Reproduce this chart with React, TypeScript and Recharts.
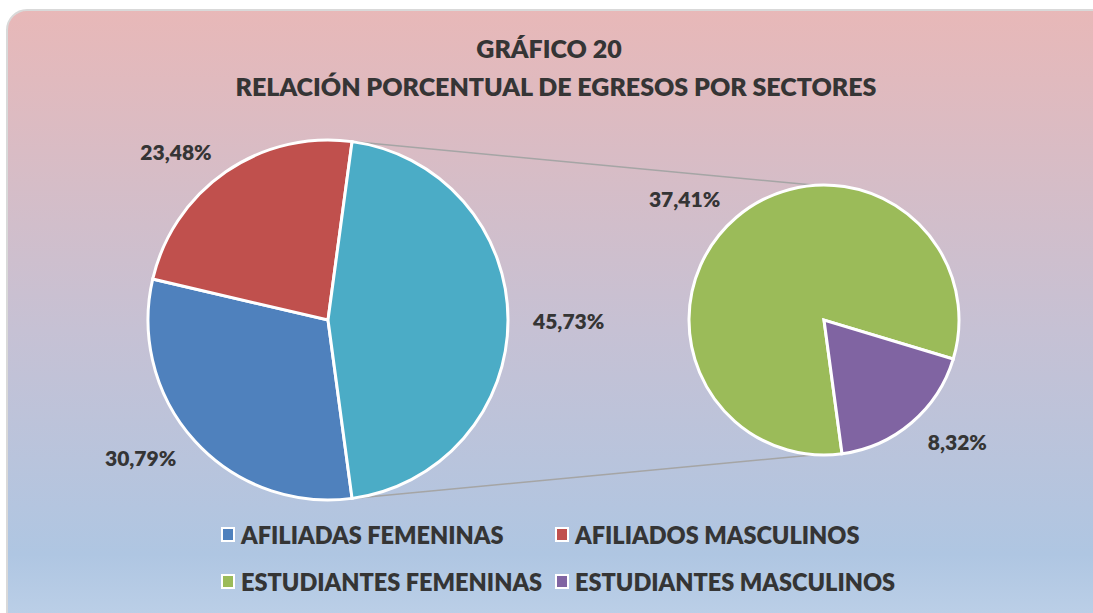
import React from 'react';
import { PieChart, Pie, Cell, Legend } from 'recharts';

const categories = ['AFILIADAS FEMENINAS', 'AFILIADOS MASCULINOS', 'ESTUDIANTES FEMENINAS', 'ESTUDIANTES MASCULINOS'];
const values = [30.79, 23.48, 37.41, 8.32];
const colors = ['#4f81bd', '#c0504d', '#9bbb59', '#8064a2'];
const otherColor = '#4bacc6';
const titleLines = ['GRÁFICO 20', 'RELACIÓN PORCENTUAL DE EGRESOS POR SECTORES'];

const W = 1093;
const H = 613;
const FONT = 'Lato, "Open Sans", sans-serif';
const TEXT = '#353535';
const WEIGHT = 800;

const mainPie = { cx: 328, cy: 320, r: 180 };
const subPie = { cx: 824, cy: 320, r: 135 };

// students go to the second pie, their sum is the "other" slice
const otherValue = values[2] + values[3];
const mainData = [
  { name: categories[0], value: values[0], fill: colors[0] },
  { name: categories[1], value: values[1], fill: colors[1] },
  { name: 'OTROS', value: otherValue, fill: otherColor },
];
const subData = [
  { name: categories[2], value: values[2], fill: colors[2] },
  { name: categories[3], value: values[3], fill: colors[3] },
];

const total = values.reduce((a, b) => a + b, 0);
const startAngle = -(otherValue / total) * 180;
const RADIAN = Math.PI / 180;

const fmt = (v: number) => v.toFixed(2).replace('.', ',') + '%';

const renderLabel = (props: any) => {
  const { cx, cy, midAngle, outerRadius, value } = props;
  const r = outerRadius + 25;
  const x = cx + r * Math.cos(-midAngle * RADIAN);
  const y = cy + r * Math.sin(-midAngle * RADIAN);
  return (
    <text
      x={x}
      y={y}
      textAnchor={x > cx ? 'start' : 'end'}
      dominantBaseline="central"
      fill={TEXT}
      fontFamily={FONT}
      fontWeight={WEIGHT}
      fontSize={21}
    >
      {fmt(value)}
    </text>
  );
};

const renderLegend = () => (
  <div
    style={{
      display: 'grid',
      gridTemplateColumns: '334px 380px',
      gridAutoRows: '47px',
      paddingLeft: 221,
      fontFamily: FONT,
      fontWeight: WEIGHT,
      fontSize: 23.5,
      color: TEXT,
    }}
  >
    {categories.map((c, i) => (
      <div key={c} style={{ display: 'flex', alignItems: 'center', whiteSpace: 'nowrap' }}>
        <span
          style={{
            width: 10,
            height: 11,
            background: colors[i],
            border: '2px solid #fff',
            marginRight: 6,
            display: 'inline-block',
            flexShrink: 0,
          }}
        />
        {c}
      </div>
    ))}
  </div>
);

// connector endpoints: edges of the "other" slice and top/bottom of the sub pie
const a = (otherValue / total) * 180 * RADIAN;
const p1 = { x: mainPie.cx + mainPie.r * Math.cos(a), y: mainPie.cy - mainPie.r * Math.sin(a) };
const p2 = { x: mainPie.cx + mainPie.r * Math.cos(a), y: mainPie.cy + mainPie.r * Math.sin(a) };
const b = 93.6 * RADIAN;
const q1 = { x: subPie.cx + subPie.r * Math.cos(b), y: subPie.cy - subPie.r * Math.sin(b) };
const q2 = { x: subPie.cx + subPie.r * Math.cos(b), y: subPie.cy + subPie.r * Math.sin(b) };

export default function App() {
  return (
    <div style={{ position: 'fixed', left: 0, top: 0, width: W, height: H, overflow: 'hidden', background: '#fff' }}>
      <svg width={W} height={H} style={{ position: 'absolute', left: 0, top: 0 }}>
        <defs>
          <linearGradient id="bg" x1="0" y1="0" x2="0" y2="1">
            <stop offset="0%" stopColor="#e8b8b8" />
            <stop offset="50%" stopColor="#c6c1d4" />
            <stop offset="85%" stopColor="#afc6e2" />
            <stop offset="100%" stopColor="#c2d4ea" />
          </linearGradient>
        </defs>
        <rect x={7} y={10} width={1110} height={640} rx={20} fill="url(#bg)" stroke="#d9d9d9" strokeWidth={2} />
        <text x={549} y={48} textAnchor="middle" dominantBaseline="central" fill={TEXT} fontFamily={FONT} fontWeight={WEIGHT} fontSize={25}>
          {titleLines[0]}
        </text>
        <text x={556} y={86} textAnchor="middle" dominantBaseline="central" fill={TEXT} fontFamily={FONT} fontWeight={WEIGHT} fontSize={25}>
          {titleLines[1]}
        </text>
        <line x1={p1.x} y1={p1.y} x2={q1.x} y2={q1.y} stroke="#a5a5a5" strokeWidth={1.5} />
        <line x1={p2.x} y1={p2.y} x2={q2.x} y2={q2.y} stroke="#a5a5a5" strokeWidth={1.5} />
      </svg>
      <div style={{ position: 'absolute', left: 0, top: 0 }}>
        <PieChart width={W} height={H} margin={{ top: 0, right: 0, bottom: 0, left: 0 }}>
          <Pie
            data={mainData}
            dataKey="value"
            nameKey="name"
            cx={mainPie.cx}
            cy={mainPie.cy}
            outerRadius={mainPie.r}
            startAngle={startAngle}
            endAngle={startAngle - 360}
            stroke="#fff"
            strokeWidth={3}
            label={renderLabel}
            labelLine={false}
            isAnimationActive={false}
          >
            {mainData.map((d) => (
              <Cell key={d.name} fill={d.fill} />
            ))}
          </Pie>
          <Pie
            data={subData}
            dataKey="value"
            nameKey="name"
            cx={subPie.cx}
            cy={subPie.cy}
            outerRadius={subPie.r}
            startAngle={startAngle}
            endAngle={startAngle - 360}
            stroke="#fff"
            strokeWidth={3}
            label={renderLabel}
            labelLine={false}
            isAnimationActive={false}
          >
            {subData.map((d) => (
              <Cell key={d.name} fill={d.fill} />
            ))}
          </Pie>
          <Legend content={renderLegend} wrapperStyle={{ left: 0, top: 511, width: W }} />
        </PieChart>
      </div>
    </div>
  );
}
